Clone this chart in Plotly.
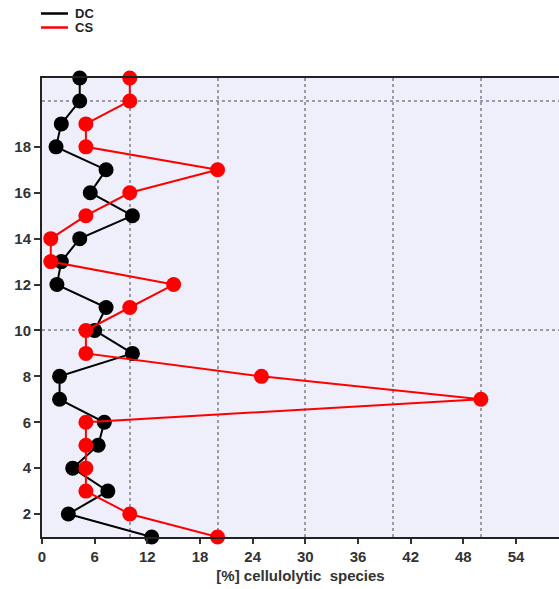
import plotly.graph_objects as go

levels = list(range(1, 22))
dc = [12.5, 3.0, 7.5, 3.5, 6.4, 7.1, 2.0, 2.0, 10.3, 6.0, 7.3, 1.7, 2.2, 4.3, 10.3, 5.5, 7.3, 1.6, 2.2, 4.3, 4.3]
cs = [20, 10, 5, 5, 5, 5, 50, 25, 5, 5, 10, 15, 1, 1, 5, 10, 20, 5, 5, 10, 10]
x_ticks = [0, 6, 12, 18, 24, 30, 36, 42, 48, 54]
y_ticks = [2, 4, 6, 8, 10, 12, 14, 16, 18]
series = [("DC", dc, "#000000"), ("CS", cs, "#ff0000")]

font_family = "Liberation Sans, Arial, sans-serif"
W, H = 559, 589
ML, MR, MT, MB = 42, 0, 78, 52
PW, PH = W - ML - MR, H - MT - MB


def px_to_paper(px, py):
    return (px - ML) / PW, (H - MB - py) / PH


fig = go.Figure()
for name, vals, col in series:
    fig.add_trace(go.Scatter(
        x=vals, y=levels, mode="lines+markers", name=name, showlegend=False,
        line=dict(color=col, width=2), marker=dict(color=col, size=15),
        cliponaxis=False,
    ))

# custom legend (key lines + labels)
shapes = []
annotations = []
for i, (name, _, col) in enumerate(series):
    ly = 13.5 + i * 14
    x0, y0 = px_to_paper(41, ly)
    x1, _ = px_to_paper(68, ly)
    xt, _ = px_to_paper(74, ly)
    shapes.append(dict(type="line", xref="paper", yref="paper",
                       x0=x0, x1=x1, y0=y0, y1=y0,
                       line=dict(color=col, width=2.5)))
    annotations.append(dict(text=name, xref="paper", yref="paper", x=xt, y=y0,
                            xanchor="left", yanchor="middle", showarrow=False,
                            borderpad=0,
                            font=dict(family=font_family, size=13, color="#222222",
                                      weight="bold")))

fig.update_layout(
    width=W, height=H,
    margin=dict(l=ML, r=MR, t=MT, b=MB, autoexpand=False),
    plot_bgcolor="#efeffc",
    paper_bgcolor="white",
    showlegend=False,
    shapes=shapes,
    annotations=annotations,
    font=dict(family=font_family, size=15, color="#333333", weight="bold"),
    xaxis=dict(
        range=[0, 58.9], tickvals=x_ticks, ticks="outside", ticklen=5,
        tickwidth=1.5, tickcolor="#333333", automargin=False,
        showline=True, linecolor="#222222", linewidth=2, mirror=True,
        showgrid=False, zeroline=False,
        minor=dict(tick0=0, dtick=10, showgrid=True, gridcolor="#9a9aa8",
                   griddash="dot", gridwidth=1.5, ticks=""),
        title=dict(text="[%] cellulolytic&nbsp; species", standoff=6,
                   font=dict(size=15, color="#333333", weight="bold")),
        tickfont=dict(size=15, color="#333333", weight="bold"),
    ),
    yaxis=dict(
        range=[1, 21], tickvals=y_ticks, ticks="outside", ticklen=6,
        tickwidth=1.5, tickcolor="#333333", automargin=False,
        showline=True, linecolor="#222222", linewidth=2,
        showgrid=False, zeroline=False,
        minor=dict(tick0=0, dtick=10, showgrid=True, gridcolor="#9a9aa8",
                   griddash="dot", gridwidth=1.5, ticks=""),
        tickfont=dict(size=15, color="#333333", weight="bold"),
    ),
)

fig.write_html("out.html", config={"displayModeBar": False},
               post_script="document.body.style.margin='0';document.body.style.overflow='hidden';")
